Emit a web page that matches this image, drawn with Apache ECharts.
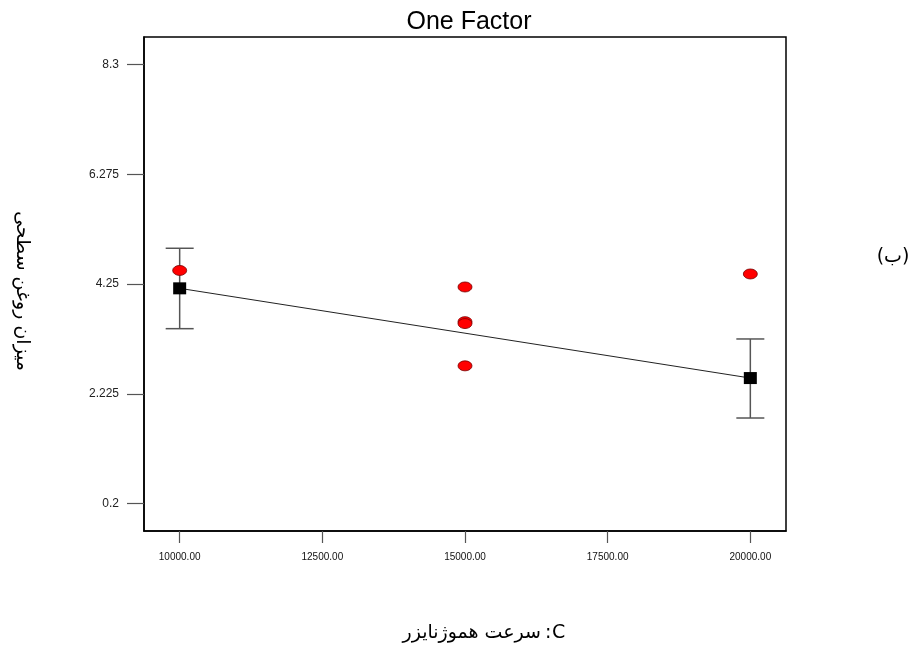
<!DOCTYPE html>
<html>
<head>
<meta charset="utf-8">
<script src="https://cdn.jsdelivr.net/npm/echarts@6/dist/echarts.min.js"></script>
<style>html,body{margin:0;padding:0;background:#fff}#c{width:915px;height:651px}</style>
</head>
<body>
<div id="c"></div>
<script>
// ---- data ----
const titleText = 'One Factor';
const xNameFa = 'سرعت هموژنایزر';
const xNameColon = ':';
const xNameLetter = 'C';
const yName = 'میزان روغن سطحی';
const panelLabel = '(ب)';
const xTicks = [10000, 12500, 15000, 17500, 20000];
const yTicks = [0.2, 2.225, 4.25, 6.275, 8.3];
const obsX = [10000, 15000, 15000, 15000, 15000, 20000];
const obsY = [4.50, 4.195, 3.555, 3.52, 2.74, 4.435];
const meanX = [10000, 20000];
const meanY = [4.17, 2.515];
const errLow = [3.426, 1.778];
const errHigh = [4.909, 3.236];
const xMin = 9375, xMax = 20625;
const yMin = -0.30625, yMax = 8.80625;

const chart = echarts.init(document.getElementById('c'), null, {renderer: 'canvas'});
const obsData = obsX.map((x, i) => [x, obsY[i]]);
const meanData = meanX.map((x, i) => [x, meanY[i]]);
const errData = meanX.map((x, i) => [x, errLow[i], errHigh[i]]);

const nameStyle = {fontFamily: 'DejaVu Sans, sans-serif', fontSize: 19, fill: '#000', verticalAlign: 'middle'};

chart.setOption({
  animation: false,
  backgroundColor: '#fff',
  title: {
    text: titleText, left: 464, top: 5, textAlign: 'center',
    textStyle: {fontFamily: 'Liberation Sans, Arial', fontSize: 25, fontWeight: 'normal', color: '#000'}
  },
  grid: {left: 144, right: 129, top: 37, bottom: 120, show: true, borderColor: '#000', borderWidth: 1.5, containLabel: false},
  xAxis: {
    type: 'value', min: xMin, max: xMax,
    axisLine: {show: true, onZero: false, lineStyle: {color: '#000', width: 1.5}},
    axisTick: {show: true, length: 12, customValues: xTicks, lineStyle: {color: '#555', width: 1.2}},
    axisLabel: {customValues: xTicks, margin: 21, fontFamily: 'Liberation Sans, Arial', fontSize: 10, color: '#111',
      formatter: v => Number(v).toFixed(2)},
    splitLine: {show: false}
  },
  yAxis: {
    type: 'value', min: yMin, max: yMax,
    axisLine: {show: true, onZero: false, lineStyle: {color: '#000', width: 1.5}},
    axisTick: {show: true, length: 17, customValues: yTicks, lineStyle: {color: '#555', width: 1.2}},
    axisLabel: {customValues: yTicks, margin: 25, fontFamily: 'Liberation Sans, Arial', fontSize: 12, color: '#222',
      formatter: v => String(Math.round(v * 1000) / 1000)},
    splitLine: {show: false}
  },
  graphic: [
    {type: 'text', x: 22, y: 291, rotation: -Math.PI / 2,
      style: Object.assign({text: yName, align: 'center'}, nameStyle)},
    {type: 'text', x: 541, y: 633,
      style: Object.assign({text: xNameFa, align: 'right'}, nameStyle)},
    {type: 'text', x: 545, y: 633,
      style: Object.assign({text: xNameColon, align: 'left'}, nameStyle)},
    {type: 'text', x: 552, y: 633,
      style: Object.assign({text: xNameLetter, align: 'left'}, nameStyle)},
    {type: 'text', x: 893, y: 257,
      style: Object.assign({text: panelLabel, align: 'center'}, nameStyle)}
  ],
  series: [
    {
      type: 'custom', data: errData, z: 2,
      renderItem: function (params, api) {
        const x = api.value(0);
        const lo = api.coord([x, api.value(1)]);
        const hi = api.coord([x, api.value(2)]);
        const hw = 14;
        const st = {stroke: '#555', lineWidth: 1.5};
        return {type: 'group', children: [
          {type: 'line', shape: {x1: lo[0], y1: lo[1], x2: hi[0], y2: hi[1]}, style: st},
          {type: 'line', shape: {x1: lo[0] - hw, y1: lo[1], x2: lo[0] + hw, y2: lo[1]}, style: st},
          {type: 'line', shape: {x1: hi[0] - hw, y1: hi[1], x2: hi[0] + hw, y2: hi[1]}, style: st}
        ]};
      }
    },
    {
      type: 'line', data: meanData, symbol: 'none', z: 3,
      lineStyle: {color: '#222', width: 1}
    },
    {
      type: 'scatter', data: obsData, symbol: 'circle', symbolSize: [14, 10], z: 4,
      itemStyle: {color: '#ff0000', borderColor: '#700', borderWidth: 0.8, opacity: 1}
    },
    {
      type: 'scatter', data: meanData, symbol: 'rect', symbolSize: [13, 12], z: 5,
      itemStyle: {color: '#000', opacity: 1}
    }
  ]
});
</script>
</body>
</html>
